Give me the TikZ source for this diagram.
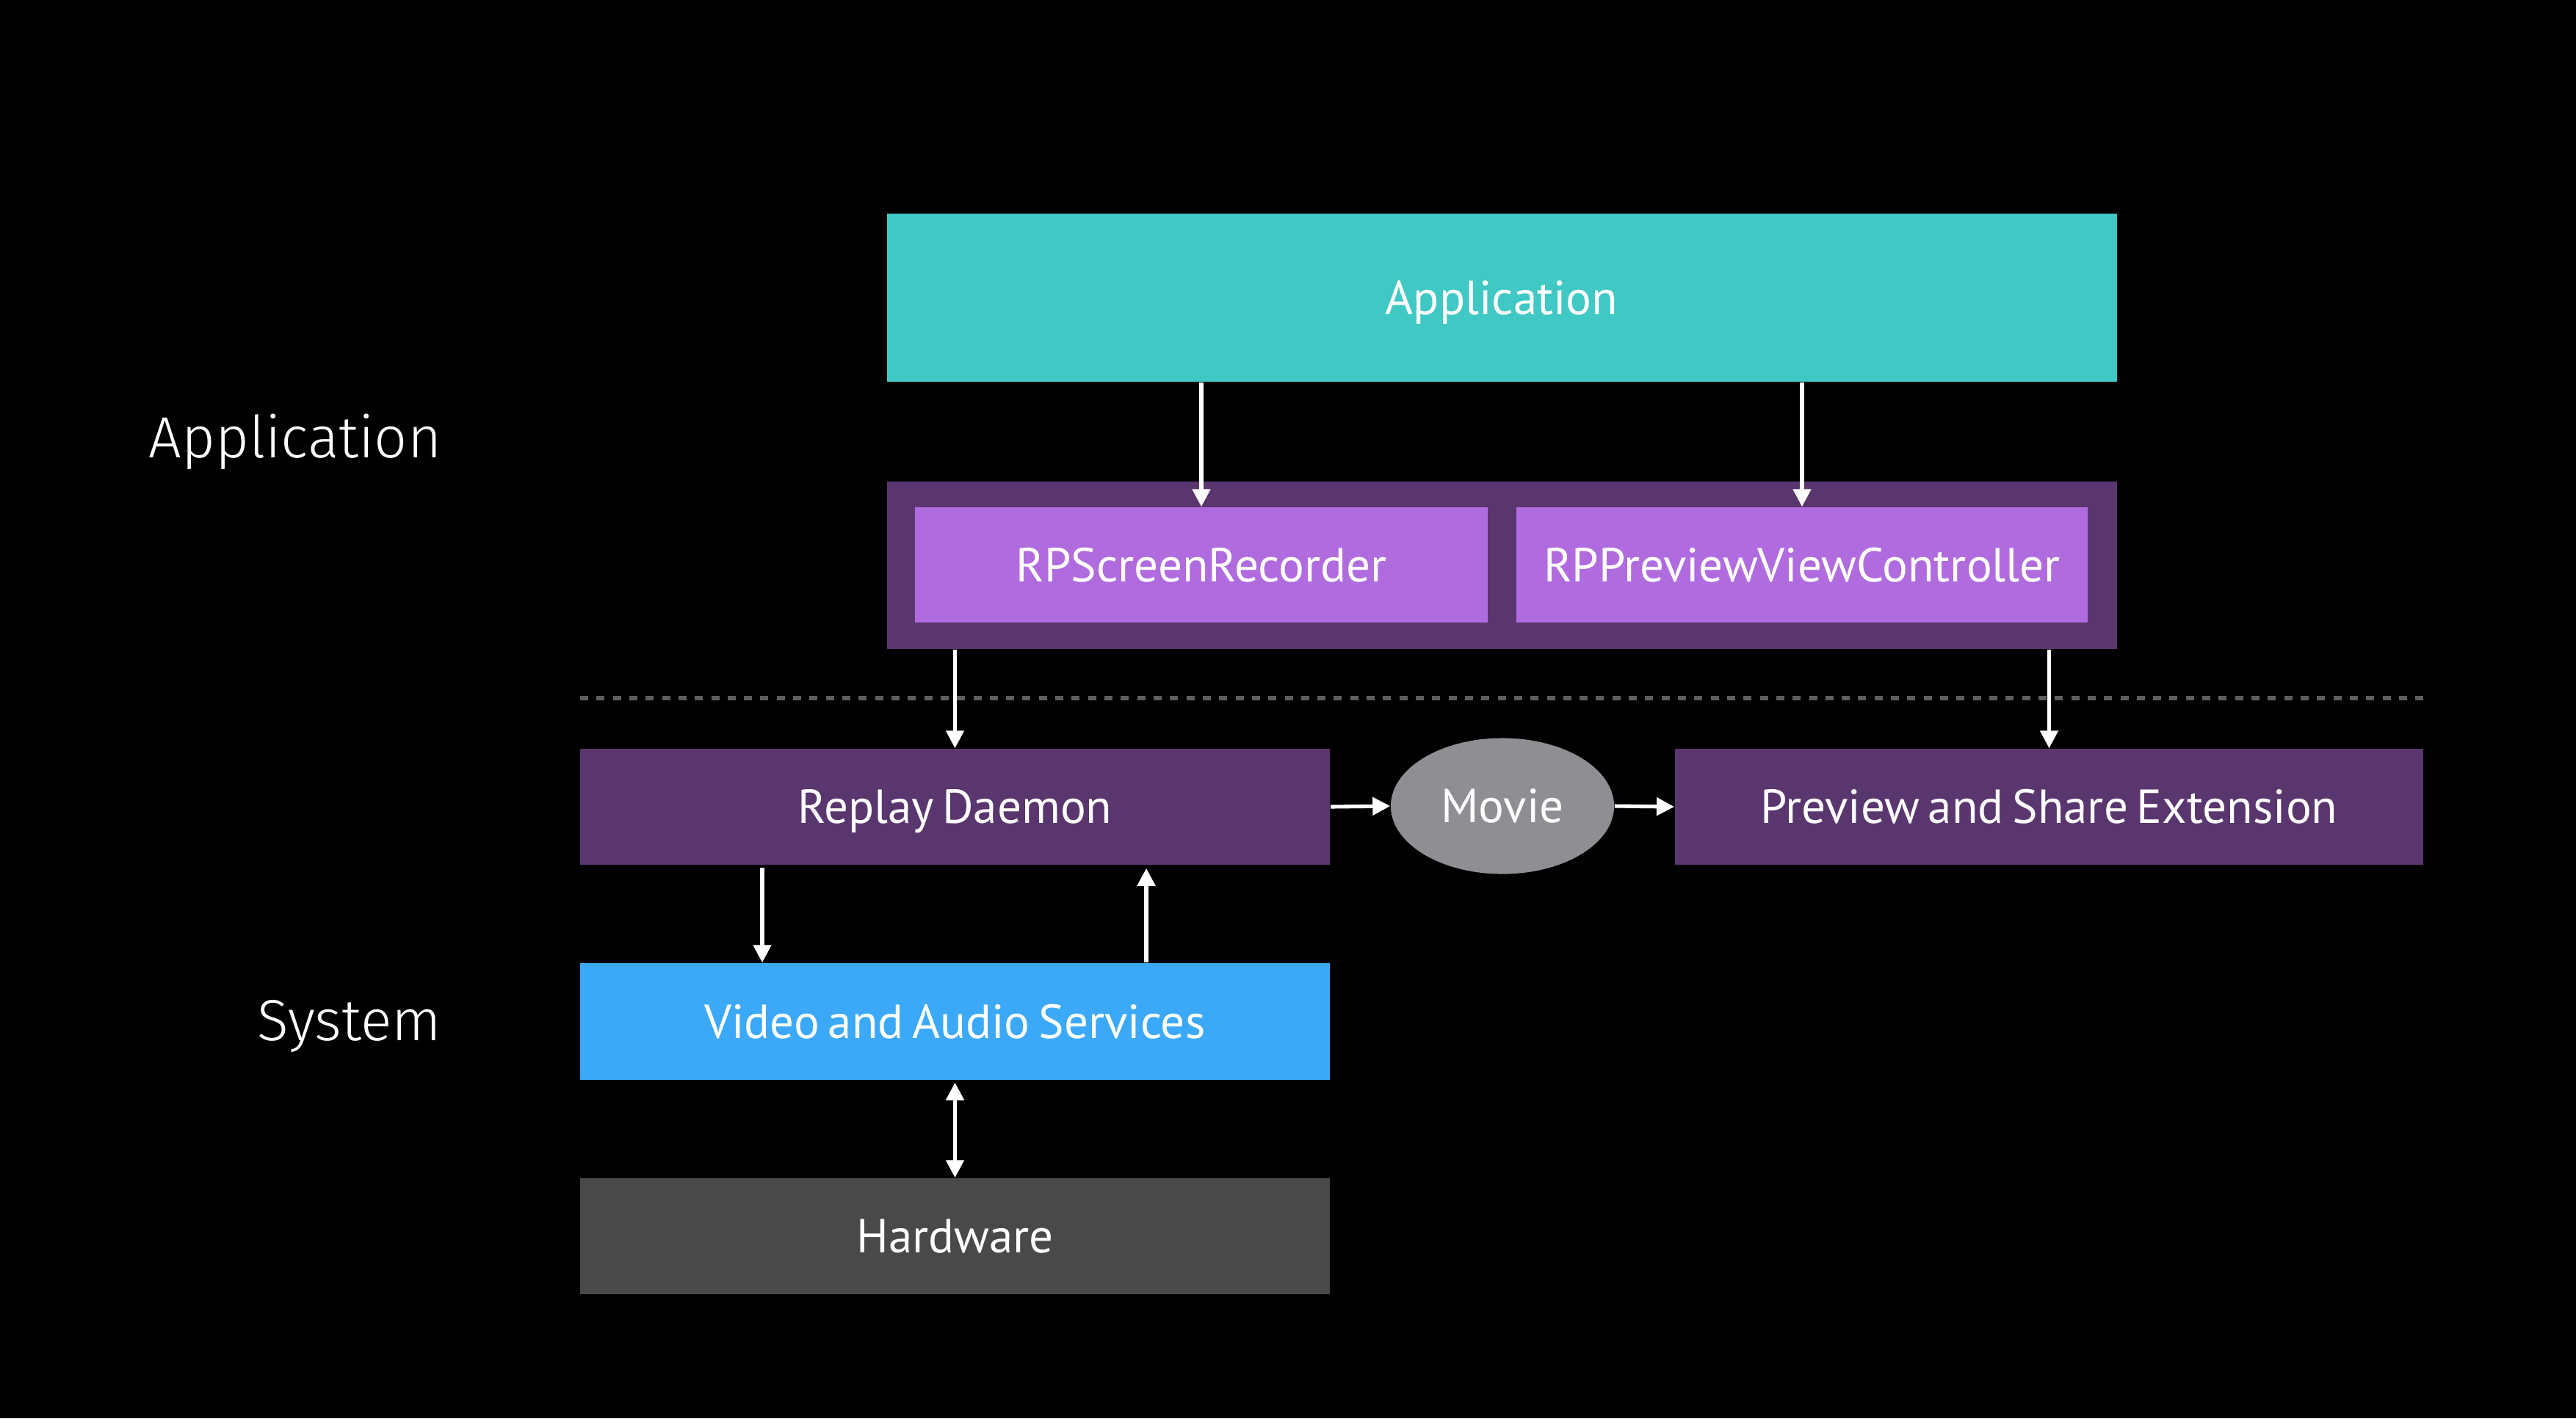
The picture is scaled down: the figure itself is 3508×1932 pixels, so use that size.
\documentclass[tikz,border=0pt]{standalone}
\usepackage{fontspec}
\setmainfont{PT Sans}
\newfontfamily\lightfont{Fira Sans Light}
\usetikzlibrary{arrows.meta,shapes.geometric,calc}
\definecolor{teal}{HTML}{40C8C4}
\definecolor{dpurple}{HTML}{5A366F}
\definecolor{lpurple}{HTML}{B06CDF}
\definecolor{sblue}{HTML}{3BA9F8}
\definecolor{hgray}{HTML}{494949}
\definecolor{mgray}{HTML}{8E8E93}
\definecolor{dotgray}{HTML}{5E5E5E}
\newcommand\myboxfnt{\fontsize{18.5pt}{22pt}\selectfont\spaceskip=0.18em plus 0.1em\relax}
\tikzset{
  boxfont/.style={text=white, font=\myboxfnt, text height=12.95pt, text depth=0pt},
  box/.style={rectangle, inner sep=0pt, boxfont},
  lbl/.style={inner sep=0pt, text=white, font=\lightfont\fontsize{22.5pt}{27pt}\selectfont, anchor=base east},
  arr/.style={draw=white, line width=1.45pt, -{Triangle[length=0.24cm,width=0.24cm]}},
  darr/.style={draw=white, line width=1.45pt, {Triangle[length=0.24cm,width=0.24cm]}-{Triangle[length=0.24cm,width=0.24cm]}},
  dotline/.style={draw=dotgray, line width=1.5pt, dash pattern=on 0.11cm off 0.113cm}
}
\begin{document}
\begin{tikzpicture}[x=0.01cm,y=-0.01cm]
\fill[black] (0,0) rectangle (3508,1932);
\useasboundingbox (0,0) rectangle (3508,1932);

\node[lbl] (lapp) at (602,623) {Application};
\node[lbl] (lsys) at (602,1417) {System};

\node[box, fill=teal, minimum width=16.74cm, minimum height=2.29cm] (app) at (2045,405.5) {Application};
\node[box, fill=dpurple, minimum width=16.74cm, minimum height=2.28cm] (cont) at (2045,770) {};
\node[box, fill=lpurple, minimum width=7.80cm, minimum height=1.57cm] (rps) at (1636,769.5) {RPScreenRecorder};
\node[box, fill=lpurple, minimum width=7.78cm, minimum height=1.57cm] (rpp) at (2454,769.5) {RPPreviewViewController};

\draw[dotline] (790,951) -- (3300,951);

\node[box, fill=dpurple, minimum width=10.21cm, minimum height=1.58cm] (rd) at (1300.5,1099) {Replay Daemon};
\node[ellipse, inner sep=0pt, fill=mgray, boxfont, minimum width=3.04cm, minimum height=1.85cm] (mov) at (2046,1098) {Movie};
\node[box, fill=dpurple, minimum width=10.19cm, minimum height=1.58cm] (pse) at (2790.5,1099) {Preview and Share Extension};
\node[box, fill=sblue, minimum width=10.21cm, minimum height=1.59cm] (vas) at (1300.5,1391.5) {Video and Audio Services};
\node[box, fill=hgray, minimum width=10.21cm, minimum height=1.58cm] (hw) at (1300.5,1684) {Hardware};

\draw[arr] (app.south -| rps.north) -- (rps.north);
\draw[arr] (app.south -| rpp.north) -- (rpp.north);
\draw[arr] (cont.south -| rd.north) -- (rd.north);
\draw[arr] (cont.south -| pse.north) -- (pse.north);
\draw[arr] (rd.east) -- (mov.west);
\draw[arr] (mov.east) -- (pse.west);
\draw[arr] ($(rd.south west)+(249,3)$) -- ($(vas.north west)+(249,0)$);
\draw[arr] ($(vas.north west)+(772,0)$) -- ($(rd.south west)+(772,4)$);
\draw[darr] ($(vas.south)+(0,3)$) -- (hw.north);
\end{tikzpicture}
\end{document}
